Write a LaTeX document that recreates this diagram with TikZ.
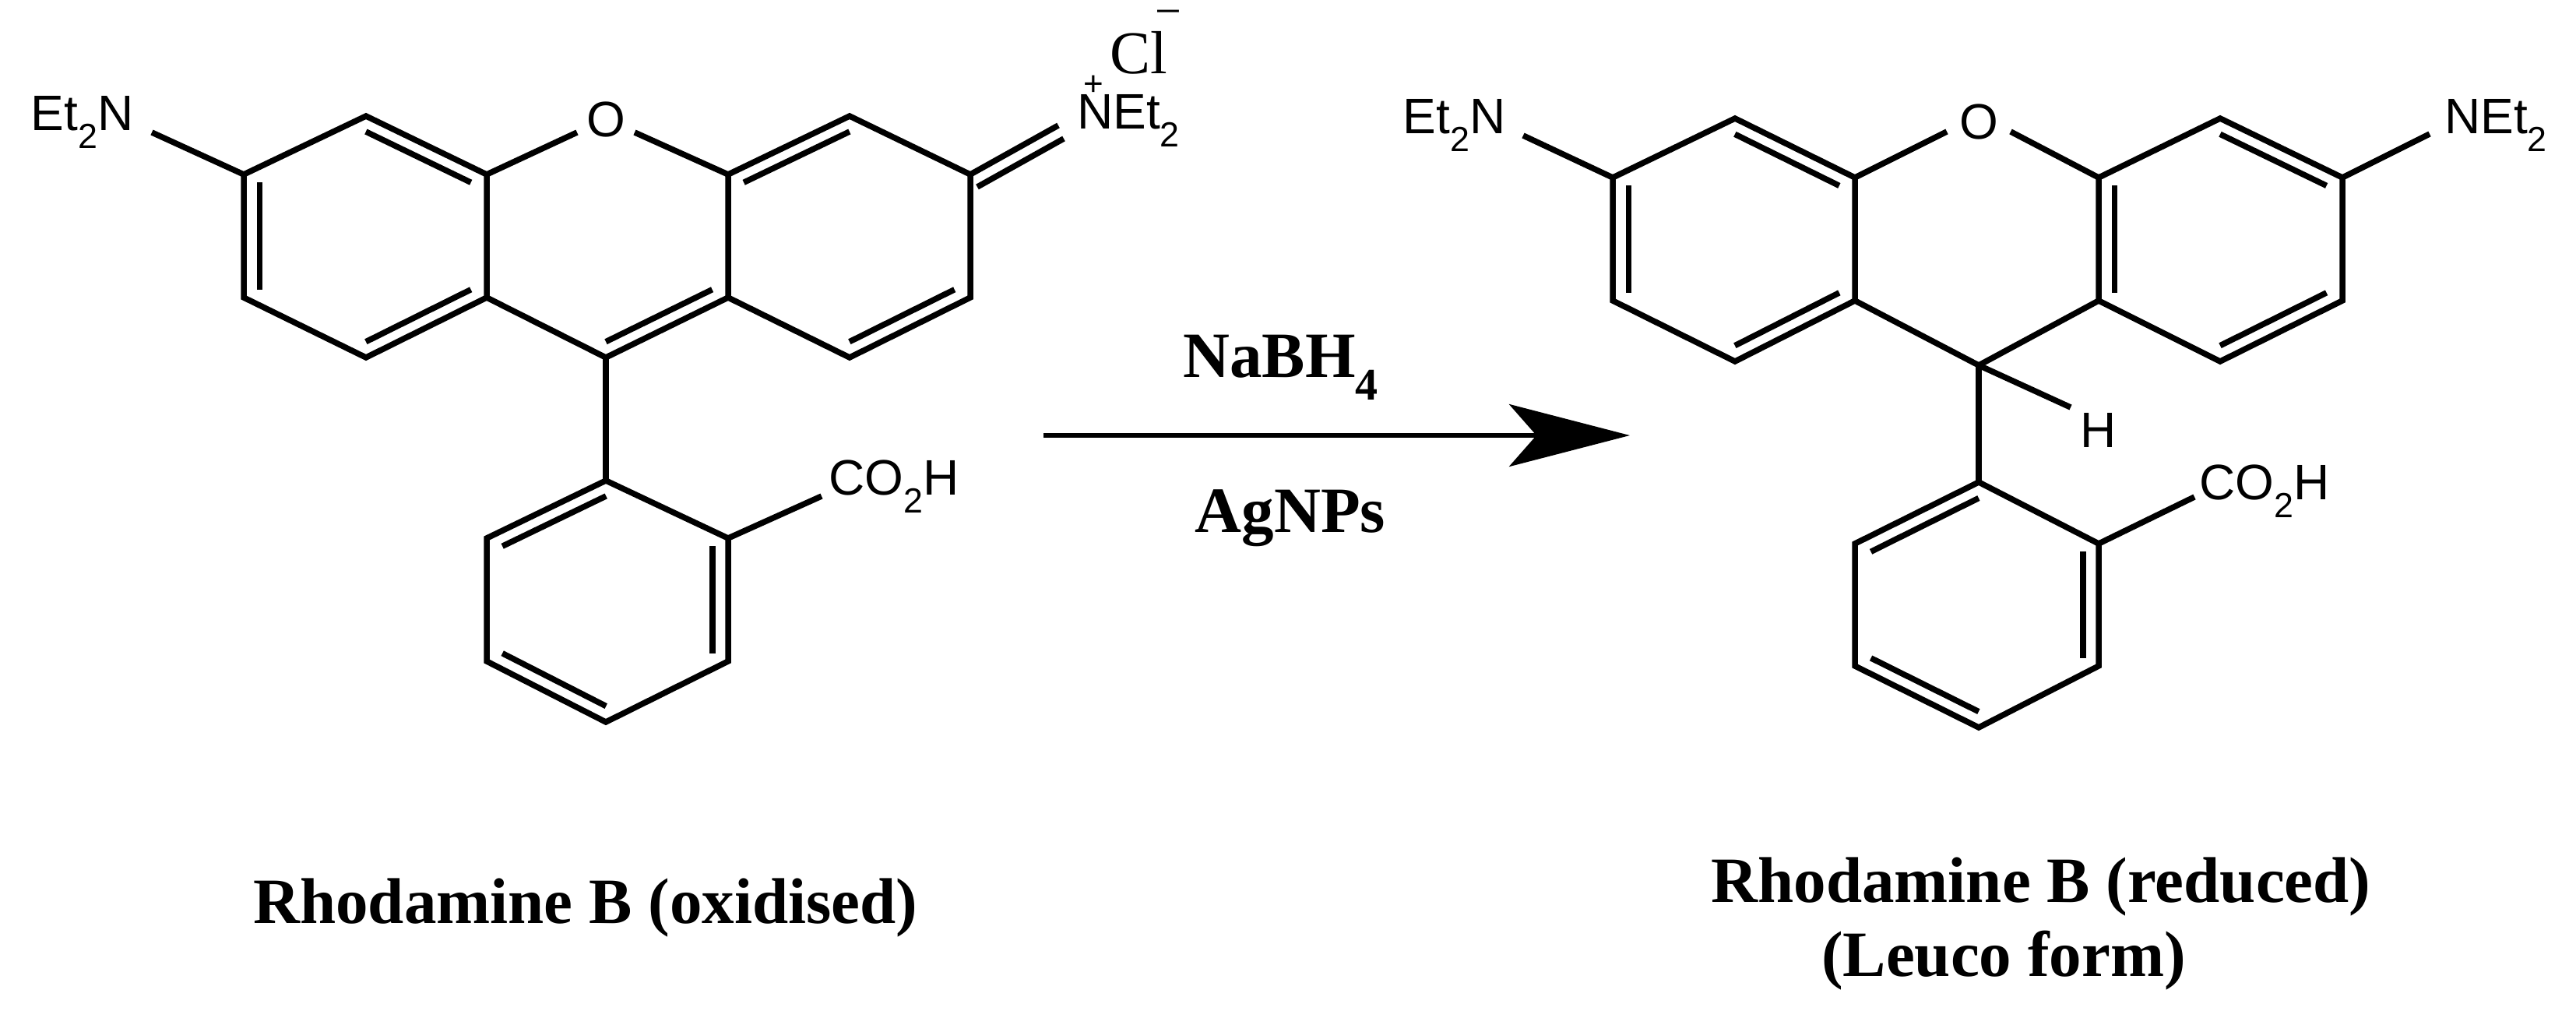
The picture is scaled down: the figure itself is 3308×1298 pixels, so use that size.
\documentclass[tikz,border=0pt]{standalone}
\usepackage{fontspec}
\setmainfont{Liberation Serif}
\setsansfont{Liberation Sans}
\usetikzlibrary{calc,arrows.meta}
\tikzset{
  bond/.style={line width=7.5pt,line join=miter,line cap=butt},
  atom/.style={inner sep=0pt,font=\sffamily\fontsize{64}{68}\selectfont},
  lbl/.style={inner sep=0pt,font=\bfseries\fontsize{83}{90}\selectfont},
  rarrow/.style={line width=6pt,-{Stealth[length=155pt,width=80pt,inset=35pt]}}
}
\newcommand{\dblin}[3]{\draw[bond] ($(#1)!0.13!(#3)$) -- ($(#2)!0.13!(#3)$);}
\begin{document}
\begin{tikzpicture}[x=1pt,y=-1pt]
\useasboundingbox (0,0) rectangle (3308,1298);
% ---------- left molecule ----------
\coordinate (a1) at (470,149); \coordinate (a2) at (625,224); \coordinate (a3) at (625,382);
\coordinate (a4) at (470,459); \coordinate (a5) at (313,382); \coordinate (a6) at (313,224);
\coordinate (cA) at (469,303);
\coordinate (b1) at (935,224); \coordinate (b2) at (935,382); \coordinate (c9) at (778,459);
\coordinate (cB) at (778,303);
\coordinate (c1) at (1091,149); \coordinate (c2) at (1246,224); \coordinate (c3) at (1246,382);
\coordinate (c4) at (1091,459); \coordinate (cC) at (1090,303);
\coordinate (p1) at (778,617); \coordinate (p2) at (935,691); \coordinate (p3) at (935,849);
\coordinate (p4) at (778,927); \coordinate (p5) at (625,849); \coordinate (p6) at (625,691);
\coordinate (cP) at (780,770);
\coordinate (oL) at (741,170); \coordinate (oR) at (815,170);
\coordinate (nL) at (195,170); \coordinate (co) at (1055,637);
\coordinate (x1) at (1359,161); \coordinate (x2a) at (1255,240); \coordinate (x2b) at (1366,178);

\node[atom] (et2nL) at (106,157) {Et\textsubscript{2}N};
\node[atom] (oxL) at (778,153) {O};
\node[atom,anchor=west] (net2L) at (1383,155) {NEt\textsubscript{2}};
\node[atom,font=\sffamily\fontsize{44}{48}\selectfont] (plusL) at (1404,110) {+};
\node[inner sep=0pt,font=\fontsize{78}{80}\selectfont] (clL) at (1462,68) {Cl};
\node[inner sep=0pt,font=\fontsize{60}{64}\selectfont] (minL) at (1500,24) {−};
\node[atom,anchor=west] (coohL) at (1064,625) {CO\textsubscript{2}H};

\draw[bond] (a1)--(a2)--(a3)--(a4)--(a5)--(a6)--cycle;
\draw[bond] (a2)--(oL); \draw[bond] (oR)--(b1);
\draw[bond] (a3)--(c9)--(b2);
\draw[bond] (b1)--(c1)--(c2)--(c3)--(c4)--(b2)--cycle;
\draw[bond] (nL)--(a6);
\draw[bond] (c9)--(p1);
\draw[bond] (p1)--(p2)--(p3)--(p4)--(p5)--(p6)--cycle;
\draw[bond] (p2)--(co);
\draw[bond] (c2)--(x1); \draw[bond] (x2a)--(x2b);
\dblin{a1}{a2}{cA} \dblin{a5}{a6}{cA} \dblin{a3}{a4}{cA}
\dblin{c9}{b2}{cB}
\dblin{b1}{c1}{cC} \dblin{c3}{c4}{cC}
\dblin{p1}{p6}{cP} \dblin{p2}{p3}{cP} \dblin{p4}{p5}{cP}

% ---------- arrow ----------
\coordinate (arS) at (1340,559); \coordinate (arE) at (2093,559);
\draw[rarrow] (arS) -- (arE);
\node[lbl,anchor=base] (nabh) at (1645,484) {NaBH\textsubscript{4}};
\node[lbl,anchor=base] (agnp) at (1657,683) {AgNPs};

% ---------- right molecule ----------
\coordinate (ra1) at (2228,152); \coordinate (ra2) at (2382,228); \coordinate (ra3) at (2382,386);
\coordinate (ra4) at (2228,464); \coordinate (ra5) at (2071,386); \coordinate (ra6) at (2071,228);
\coordinate (rcA) at (2227,308);
\coordinate (rb1) at (2695,228); \coordinate (rb2) at (2695,386); \coordinate (rc9) at (2541,469);
\coordinate (rc1) at (2851,152); \coordinate (rc2) at (3008,228); \coordinate (rc3) at (3008,386);
\coordinate (rc4) at (2851,464); \coordinate (rcC) at (2851,308);
\coordinate (rp1) at (2541,619); \coordinate (rp2) at (2695,698); \coordinate (rp3) at (2695,855);
\coordinate (rp4) at (2541,934); \coordinate (rp5) at (2382,855); \coordinate (rp6) at (2382,698);
\coordinate (rcP) at (2540,777);
\coordinate (roL) at (2500,169); \coordinate (roR) at (2582,169);
\coordinate (rnL) at (1956,174); \coordinate (rnR) at (3120,172);
\coordinate (rh) at (2659,523); \coordinate (rco) at (2818,638);

\node[atom] (et2nR) at (1868,161) {Et\textsubscript{2}N};
\node[atom] (oxR) at (2541,156) {O};
\node[atom,anchor=west] (net2R) at (3139,161) {NEt\textsubscript{2}};
\node[atom] (hR) at (2695,552) {H};
\node[atom,anchor=west] (coohR) at (2824,631) {CO\textsubscript{2}H};

\draw[bond] (ra1)--(ra2)--(ra3)--(ra4)--(ra5)--(ra6)--cycle;
\draw[bond] (ra2)--(roL); \draw[bond] (roR)--(rb1);
\draw[bond] (ra3)--(rc9)--(rb2);
\draw[bond] (rb1)--(rc1)--(rc2)--(rc3)--(rc4)--(rb2)--cycle;
\draw[bond] (rnL)--(ra6); \draw[bond] (rc2)--(rnR);
\draw[bond] (rc9)--(rh);
\draw[bond] (rc9)--(rp1);
\draw[bond] (rp1)--(rp2)--(rp3)--(rp4)--(rp5)--(rp6)--cycle;
\draw[bond] (rp2)--(rco);
\dblin{ra1}{ra2}{rcA} \dblin{ra5}{ra6}{rcA} \dblin{ra3}{ra4}{rcA}
\dblin{rb1}{rb2}{rcC} \dblin{rc1}{rc2}{rcC} \dblin{rc3}{rc4}{rcC}
\dblin{rp1}{rp6}{rcP} \dblin{rp2}{rp3}{rcP} \dblin{rp4}{rp5}{rcP}

% ---------- captions ----------
\node[lbl,anchor=base] (capL) at (752,1185) {Rhodamine B (oxidised)};
\node[lbl,anchor=base] (capR1) at (2621,1158) {Rhodamine B (reduced)};
\node[lbl,anchor=base] (capR2) at (2573,1253) {(Leuco form)};
\end{tikzpicture}
\end{document}
